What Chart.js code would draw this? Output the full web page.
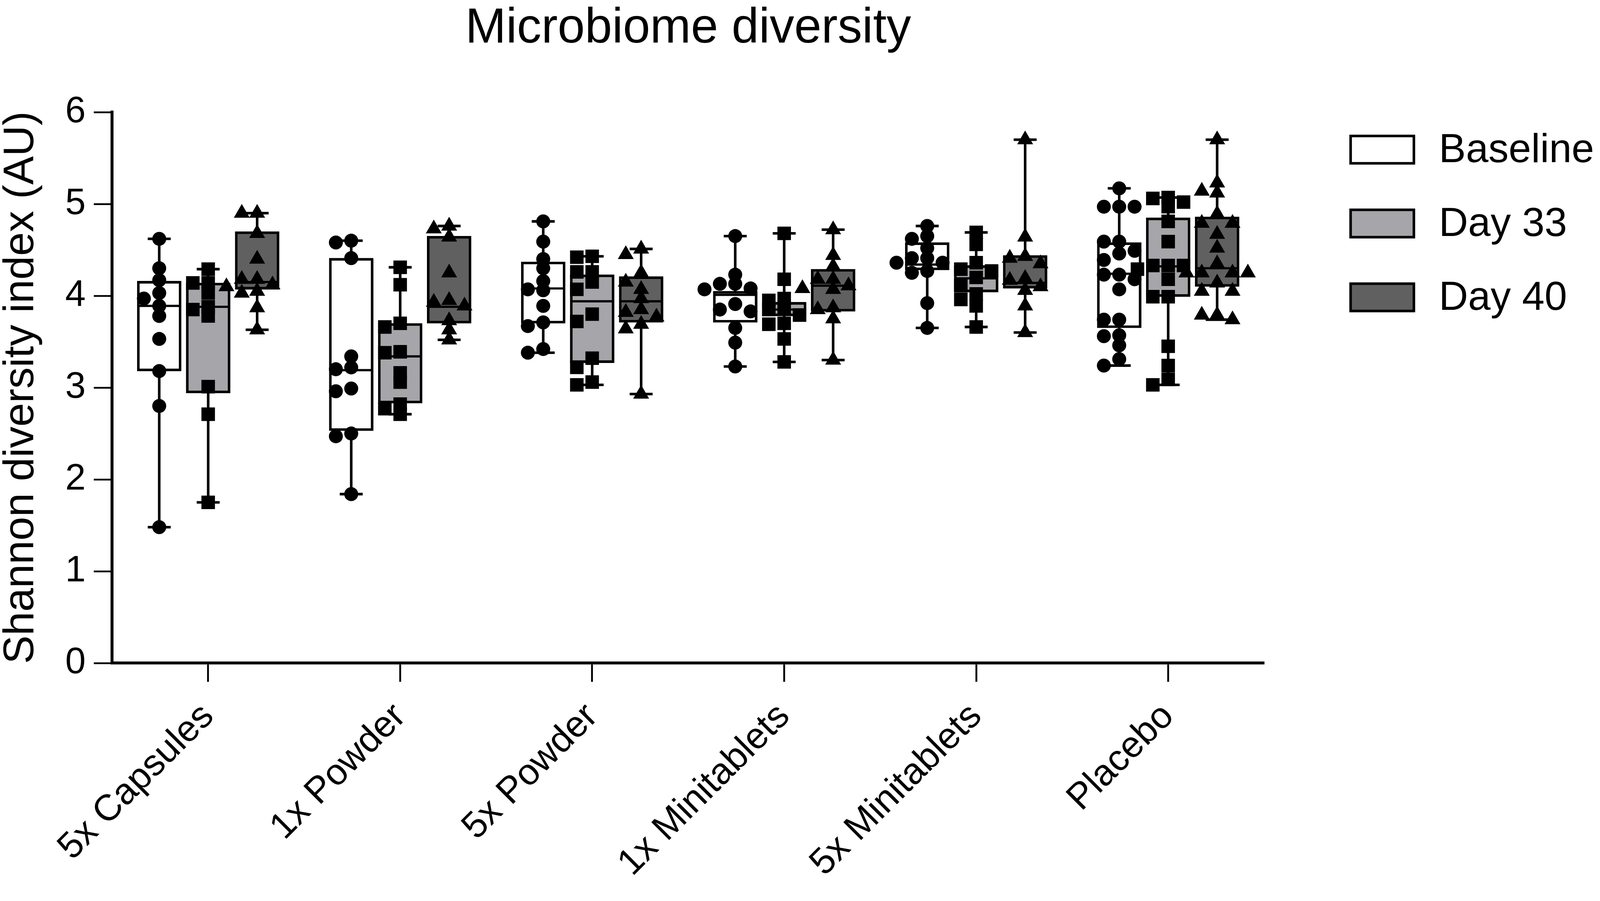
<!DOCTYPE html>
<html>
<head>
<meta charset="utf-8">
<script src="https://cdn.jsdelivr.net/npm/chart.js@4.4.1/dist/chart.umd.min.js"></script>
<style>
  html, body { margin: 0; padding: 0; background: #fff; overflow: hidden; }
  #wrap { width: 100vw; height: 100vh; }
</style>
</head>
<body>
<div id="wrap"><canvas id="chart"></canvas></div>
<script>
// categories and series
const groups = ['5x Capsules', '1x Powder', '5x Powder', '1x Minitablets', '5x Minitablets', 'Placebo'];
const seriesNames = ['Baseline', 'Day 33', 'Day 40'];

// box statistics
const baselineMin = [1.48, 1.84, 3.38, 3.23, 3.65, 3.24];
const baselineQ1  = [3.18, 2.53, 3.70, 3.71, 4.28, 3.65];
const baselineMed = [3.89, 3.19, 4.08, 4.01, 4.34, 4.24];
const baselineQ3  = [4.16, 4.41, 4.37, 4.05, 4.58, 4.58];
const baselineMax = [4.62, 4.60, 4.81, 4.65, 4.76, 5.17];

const day33Min = [1.75, 2.71, 3.03, 3.28, 3.66, 3.03];
const day33Q1  = [2.94, 2.83, 3.27, 3.78, 4.04, 3.99];
const day33Med = [3.88, 3.34, 3.94, 3.85, 4.19, 4.32];
const day33Q3  = [4.14, 3.70, 4.23, 3.93, 4.33, 4.85];
const day33Max = [4.29, 4.31, 4.43, 4.68, 4.69, 5.07];

const day40Min = [3.63, 3.52, 2.93, 3.30, 3.60, 3.74];
const day40Q1  = [4.07, 3.70, 3.71, 3.83, 4.08, 4.10];
const day40Med = [4.15, 3.88, 3.94, 4.11, 4.14, 4.30];
const day40Q3  = [4.70, 4.65, 4.21, 4.29, 4.44, 4.86];
const day40Max = [4.90, 4.76, 4.51, 4.72, 5.70, 5.70];

// individual subjects
const baselinePts = [
  [4.62, 4.30, 4.17, 4.03, 3.97, 3.89, 3.78, 3.53, 3.18, 2.80, 1.48],
  [4.60, 4.58, 4.41, 3.34, 3.22, 3.20, 2.99, 2.96, 2.50, 2.47, 1.84],
  [4.81, 4.59, 4.40, 4.30, 4.16, 4.07, 4.06, 3.89, 3.71, 3.67, 3.42, 3.38],
  [4.65, 4.23, 4.13, 4.13, 4.08, 4.07, 3.91, 3.85, 3.83, 3.65, 3.49, 3.23],
  [4.76, 4.65, 4.62, 4.52, 4.41, 4.41, 4.36, 4.36, 4.27, 4.25, 3.92, 3.65],
  [5.17, 4.97, 4.97, 4.97, 4.59, 4.59, 4.49, 4.46, 4.39, 4.23, 4.23, 4.18, 4.07, 3.74, 3.74, 3.57, 3.56, 3.46, 3.31, 3.24]
];
const day33Pts = [
  [4.29, 4.14, 4.14, 4.03, 3.88, 3.85, 3.78, 3.01, 2.71, 1.75],
  [4.31, 4.12, 3.70, 3.66, 3.39, 3.38, 3.16, 3.06, 2.82, 2.77, 2.71],
  [4.43, 4.42, 4.26, 4.26, 4.15, 4.07, 3.80, 3.72, 3.32, 3.22, 3.06, 3.03],
  [4.68, 4.18, 3.97, 3.95, 3.87, 3.85, 3.79, 3.70, 3.69, 3.53, 3.28],
  [4.69, 4.56, 4.36, 4.29, 4.27, 4.20, 4.11, 4.02, 3.96, 3.89, 3.66],
  [5.07, 5.06, 5.02, 4.97, 4.81, 4.59, 4.33, 4.33, 4.33, 4.29, 4.18, 3.99, 3.99, 3.45, 3.24, 3.09, 3.03]
];
const day40Pts = [
  [4.90, 4.90, 4.68, 4.40, 4.18, 4.18, 4.12, 4.10, 4.05, 4.03, 3.87, 3.63],
  [4.76, 4.73, 4.64, 4.25, 3.95, 3.93, 3.89, 3.73, 3.63, 3.52],
  [4.51, 4.45, 4.25, 4.15, 4.07, 3.97, 3.85, 3.82, 3.77, 3.69, 3.64, 2.93],
  [4.72, 4.44, 4.32, 4.18, 4.18, 4.11, 4.08, 4.07, 3.87, 3.85, 3.75, 3.30],
  [5.70, 4.64, 4.43, 4.41, 4.35, 4.19, 4.17, 4.10, 4.06, 3.89, 3.60],
  [5.70, 5.23, 5.14, 5.12, 4.89, 4.79, 4.79, 4.67, 4.52, 4.35, 4.25, 4.25, 4.25, 4.25, 4.14, 4.05, 4.05, 3.79, 3.79, 3.74]
];

// layout is planned on a 4350 x 2306 page and scaled to the real viewport
const SX = window.innerWidth / 4350;
const SY = window.innerHeight / 2306;
const S = Math.min(SX, SY);
const px = v => v * S;    // sizes
const hx = v => v * SX;   // horizontal positions
const vy = v => v * SY;   // vertical positions

const FONT = '"Liberation Sans", Arial, sans-serif';
const BOX_SHIFT = 0.255;  // distance between neighbouring boxes, in category units
const boxColors = ['#ffffff', '#a5a5aa', '#606060'];
const markers = ['circle', 'rect', 'triangle'];
const markerRadius = [19, 26, 25];

const stats = [
  {min: baselineMin, q1: baselineQ1, med: baselineMed, q3: baselineQ3, max: baselineMax, pts: baselinePts},
  {min: day33Min, q1: day33Q1, med: day33Med, q3: day33Q3, max: day33Max, pts: day33Pts},
  {min: day40Min, q1: day40Q1, med: day40Med, q3: day40Q3, max: day40Max, pts: day40Pts}
];

// spread overlapping points sideways like a column scatter (deterministic)
const COL_STEP = 0.08, Y_GAP = 0.1;
const COLS = [0, -COL_STEP, COL_STEP, -2 * COL_STEP, 2 * COL_STEP];
function spread(values) {
  const placed = [];
  return values.map(v => {
    for (const off of COLS) {
      if (!placed.some(p => p.off === off && Math.abs(p.v - v) < Y_GAP)) {
        placed.push({v, off});
        return off;
      }
    }
    return 0;
  });
}

const datasets = [];
stats.forEach((s, k) => {
  const shift = (k - 1) * BOX_SHIFT;
  datasets.push({
    type: 'bar',
    label: seriesNames[k],
    data: groups.map((g, i) => ({x: i + shift, y: [s.q1[i], s.q3[i]]})),
    backgroundColor: boxColors[k],
    borderColor: '#000',
    borderWidth: px(7),
    borderSkipped: false,
    grouped: false,
    barThickness: hx(120),
    xAxisID: 'xp',
    yAxisID: 'y',
    order: 2,
    box: s
  });
});
stats.forEach((s, k) => {
  const shift = (k - 1) * BOX_SHIFT;
  const pts = [];
  s.pts.forEach((vals, i) => {
    const offs = spread(vals);
    vals.forEach((v, j) => pts.push({x: i + shift + offs[j], y: v}));
  });
  datasets.push({
    type: 'scatter',
    label: seriesNames[k] + ' subjects',
    data: pts,
    pointStyle: markers[k],
    pointRadius: px(markerRadius[k]),
    pointHoverRadius: px(markerRadius[k]),
    backgroundColor: '#000',
    borderColor: '#000',
    borderWidth: 0,
    xAxisID: 'xp',
    yAxisID: 'y',
    order: 1
  });
});

// whiskers and median lines, drawn right after each box series
const boxWhiskers = {
  id: 'boxWhiskers',
  afterDatasetDraw(chart, args) {
    const ds = chart.data.datasets[args.index];
    if (!ds.box) return;
    const y = chart.scales.y;
    const ctx = chart.ctx;
    const s = ds.box;
    ctx.save();
    ctx.strokeStyle = '#000';
    args.meta.data.forEach((bar, i) => {
      const {x, width} = bar.getProps(['x', 'width'], true);
      const half = width / 2, cap = width * 0.26;
      const line = (x1, y1, x2, y2) => { ctx.beginPath(); ctx.moveTo(x1, y1); ctx.lineTo(x2, y2); ctx.stroke(); };
      const pMin = y.getPixelForValue(s.min[i]);
      const pQ1 = y.getPixelForValue(s.q1[i]);
      const pMed = y.getPixelForValue(s.med[i]);
      const pQ3 = y.getPixelForValue(s.q3[i]);
      const pMax = y.getPixelForValue(s.max[i]);
      ctx.lineWidth = px(6);
      line(x - half + px(4), pMed, x + half - px(4), pMed);
      ctx.lineWidth = px(7);
      line(x, pQ3, x, pMax);
      line(x, pQ1, x, pMin);
      line(x - cap, pMax, x + cap, pMax);
      line(x - cap, pMin, x + cap, pMin);
    });
    ctx.restore();
  }
};

// legend at the right, boxes like the plotted ones
const sideLegend = {
  id: 'sideLegend',
  afterDraw(chart) {
    const ctx = chart.ctx;
    const boxX = hx(3672), boxW = hx(172), boxH = vy(70), textX = hx(3912);
    ctx.save();
    ctx.font = px(110) + 'px ' + FONT;
    ctx.textBaseline = 'middle';
    ctx.textAlign = 'left';
    seriesNames.forEach((name, k) => {
      const cy = vy(383 + k * 189);
      ctx.fillStyle = boxColors[k];
      ctx.fillRect(boxX, cy - boxH / 2, boxW, boxH);
      ctx.lineWidth = px(7);
      ctx.strokeStyle = '#000';
      ctx.strokeRect(boxX, cy - boxH / 2, boxW, boxH);
      ctx.fillStyle = '#000';
      ctx.fillText(name, textX, cy + px(4));
    });
    ctx.restore();
  }
};

new Chart(document.getElementById('chart'), {
  type: 'bar',
  data: { labels: groups, datasets: datasets },
  plugins: [boxWhiskers, sideLegend],
  options: {
    responsive: true,
    maintainAspectRatio: false,
    animation: false,
    layout: { padding: { left: 0, right: hx(913), top: 0, bottom: 0 } },
    plugins: {
      legend: { display: false },
      tooltip: { enabled: false },
      title: {
        display: true,
        text: 'Microbiome diversity',
        color: '#000',
        fullSize: false,
        font: { family: FONT, size: px(133), weight: 'normal', lineHeight: 1 },
        padding: { top: vy(12), bottom: vy(287 - 12) - px(133) }
      }
    },
    scales: {
      x: {
        type: 'category',
        labels: groups,
        offset: true,
        grid: { display: true, drawOnChartArea: false, offset: false, tickLength: vy(48), tickWidth: px(5), tickColor: '#000' },
        border: { display: true, color: '#000', width: px(8) },
        ticks: {
          color: '#000',
          font: { family: FONT, size: px(100) },
          minRotation: 45,
          maxRotation: 45,
          autoSkip: false,
          padding: vy(34)
        },
        afterFit: scale => { scale.height = vy(609); }
      },
      xp: { type: 'linear', min: -0.5, max: 5.5, offset: false, display: false },
      y: {
        min: 0,
        max: 6,
        grid: { display: true, drawOnChartArea: false, tickLength: hx(50), tickWidth: px(5), tickColor: '#000' },
        border: { display: true, color: '#000', width: px(8) },
        ticks: { stepSize: 1, color: '#000', font: { family: FONT, size: px(100) }, padding: hx(22) },
        title: {
          display: true,
          text: 'Shannon diversity index (AU)',
          color: '#000',
          font: { family: FONT, size: px(116), lineHeight: 1 },
          padding: { top: 0, bottom: 0 }
        },
        afterFit: scale => { scale.width = hx(305); }
      }
    }
  }
});
</script>
</body>
</html>
